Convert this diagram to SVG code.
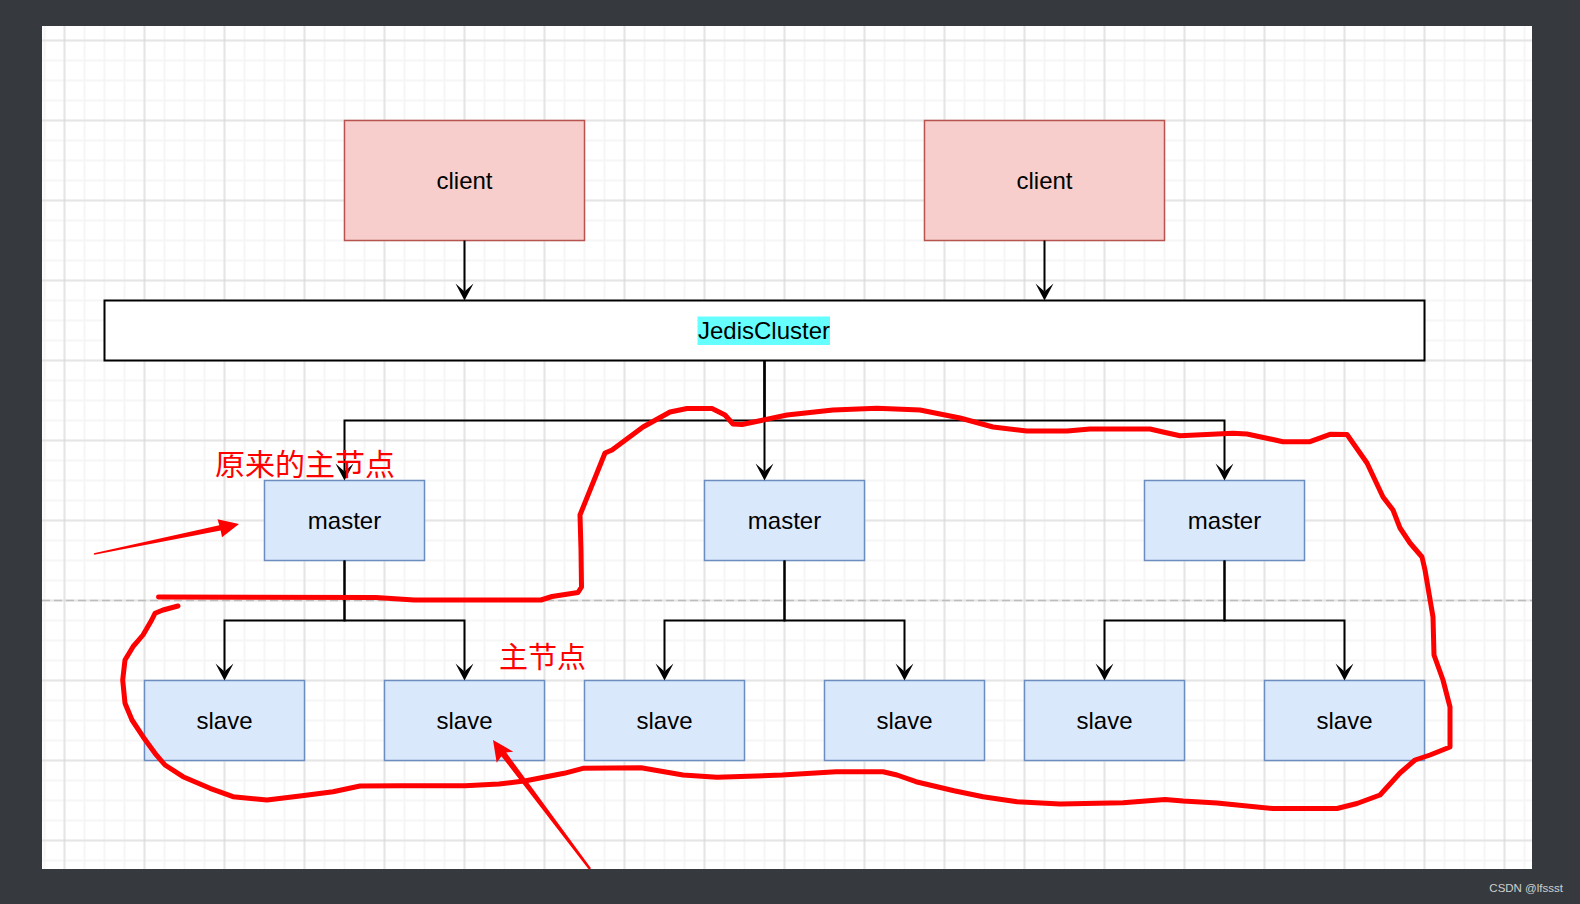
<svg xmlns="http://www.w3.org/2000/svg" width="1580" height="904" viewBox="0 0 1580 904">
<defs>
<pattern id="gridMinor" patternUnits="userSpaceOnUse" x="-5.5" y="-9.5" width="20" height="20">
<path d="M10 0V20M0 10H20" stroke="#f4f4f4" stroke-width="1.5" fill="none"/>
</pattern>
<pattern id="gridMajor" patternUnits="userSpaceOnUse" x="24.5" y="0.5" width="80" height="80">
<path d="M40 0V80M0 40H80" stroke="#d3d3d3" stroke-width="1" fill="none"/>
</pattern>
<marker id="arrow" markerUnits="userSpaceOnUse" orient="auto" overflow="visible" refX="0" refY="0" markerWidth="20" markerHeight="20">
<path d="M9,0 L-8,-9 L0,0 L-8,9 Z" fill="#000"/>
</marker>
<style>
.client{fill:#f8cecc;stroke:#b85450;stroke-width:1.5}
.node{fill:#dae8fc;stroke:#6c8ebf;stroke-width:1.5}
.lbl{font-family:"Liberation Sans",Arial,Helvetica,sans-serif;font-size:24px;fill:#000;text-anchor:middle}
.edge{fill:none;stroke:#000;stroke-width:2;marker-end:url(#arrow)}
.red{font-family:"Liberation Sans","Noto Sans CJK SC",sans-serif;fill:#ff0000}
</style>
</defs>
<rect x="0" y="0" width="1580" height="904" fill="#363a3e"/>
<rect x="42" y="26" width="1490" height="843" fill="#ffffff"/>
<rect x="42" y="26" width="1490" height="843" fill="url(#gridMinor)"/>
<rect x="42" y="26" width="1490" height="843" fill="url(#gridMajor)"/>
<line x1="42" y1="600.5" x2="1532" y2="600.5" stroke="#bdbdbd" stroke-width="1.5" stroke-dasharray="8 4"/>

<g id="client1"><rect class="client" x="344.5" y="120.5" width="240" height="120"/><text class="lbl" x="464.5" y="189">client</text></g>
<g id="client2"><rect class="client" x="924.5" y="120.5" width="240" height="120"/><text class="lbl" x="1044.5" y="189">client</text></g>
<g id="jediscluster"><rect x="104.5" y="300.5" width="1320" height="60" fill="#fff" stroke="#000" stroke-width="2"/><rect x="697.5" y="316.5" width="132.5" height="28.5" fill="#66ffff"/><text class="lbl" x="764" y="339">JedisCluster</text></g>
<g id="master1"><rect class="node" x="264.5" y="480.5" width="160" height="80"/><text class="lbl" x="344.5" y="529">master</text></g>
<g id="master2"><rect class="node" x="704.5" y="480.5" width="160" height="80"/><text class="lbl" x="784.5" y="529">master</text></g>
<g id="master3"><rect class="node" x="1144.5" y="480.5" width="160" height="80"/><text class="lbl" x="1224.5" y="529">master</text></g>
<g id="slave1"><rect class="node" x="144.5" y="680.5" width="160" height="80"/><text class="lbl" x="224.5" y="729">slave</text></g>
<g id="slave2"><rect class="node" x="384.5" y="680.5" width="160" height="80"/><text class="lbl" x="464.5" y="729">slave</text></g>
<g id="slave3"><rect class="node" x="584.5" y="680.5" width="160" height="80"/><text class="lbl" x="664.5" y="729">slave</text></g>
<g id="slave4"><rect class="node" x="824.5" y="680.5" width="160" height="80"/><text class="lbl" x="904.5" y="729">slave</text></g>
<g id="slave5"><rect class="node" x="1024.5" y="680.5" width="160" height="80"/><text class="lbl" x="1104.5" y="729">slave</text></g>
<g id="slave6"><rect class="node" x="1264.5" y="680.5" width="160" height="80"/><text class="lbl" x="1344.5" y="729">slave</text></g>

<g id="connectors">
<path class="edge" d="M464.5 240.5V291.5"/>
<path class="edge" d="M1044.5 240.5V291.5"/>
<path class="edge" d="M764.5 360.5V420.5H344.5V471.5"/>
<path class="edge" d="M764.5 360.5V471.5"/>
<path class="edge" d="M764.5 360.5V420.5H1224.5V471.5"/>
<path class="edge" d="M344.5 560.5V620.5H224.5V671.5"/>
<path class="edge" d="M344.5 560.5V620.5H464.5V671.5"/>
<path class="edge" d="M784.5 560.5V620.5H664.5V671.5"/>
<path class="edge" d="M784.5 560.5V620.5H904.5V671.5"/>
<path class="edge" d="M1224.5 560.5V620.5H1104.5V671.5"/>
<path class="edge" d="M1224.5 560.5V620.5H1344.5V671.5"/>
</g>

<g id="annotations">
<polyline fill="none" stroke="#ff0000" stroke-width="5" stroke-linejoin="round" stroke-linecap="round" points="158.5,597 376,597.5 414,600 541,600 552,596.5 578,592.5 581.5,587 581,550 580,515 605,453 612,450 643,427 670,412 687,408.5 712,408.5 725,415 733,424 742,424.5 787,415 833,410 877,408.3 920,410 960,418 993,427 1027,431 1067,431 1090,429 1150,429 1163,432 1180,435.7 1233,433.3 1247,434 1283,441.7 1310,441.7 1330,434.3 1347,434.5 1367,463 1383,497 1393,510 1400,528 1410,543 1422,557 1425,570 1433,617 1434,655 1443,680 1450,707 1450,747 1430,755 1415,760 1400,773 1380,795 1357,803.5 1337,808.5 1273,808.5 1217,803 1183,801 1165,799.5 1123,802.7 1060,804 1017,801.7 983,796.7 954,790.7 916,781.7 897,775 883,771.7 836,771.7 782,775 717,777.3 683,775 641,767.7 583,768.3 564,773.3 526,780.7 499,784 465,785.7 400,785.7 360,786 333,791.7 300,796 267,800 233,796.7 210,788.3 183,776.7 165,765 155,753.3 143,736.7 132,720 125,703.3 122.7,680 125,660 133,646.7 143,635 151.7,620 155,613.3 163,610 178,606"/>
<polygon fill="#ff0000" points="93.8,553.2 219.3,525.3 217.5,519.3 239,524 222,537.3 220.7,530.5 94.2,554.8"/>
<polygon fill="#ff0000" points="493,740 513.3,751.7 506.2,752.6 591,868.2 589,869.8 501.4,756.2 496.7,762.7"/>
<text class="red" x="215" y="475" font-size="30">原来的主节点</text>
<text class="red" x="499" y="668" font-size="29">主节点</text>
</g>
<text x="1563" y="892" font-family="'Liberation Sans',Arial,sans-serif" font-size="11.5" fill="#d0d0d0" text-anchor="end">CSDN @lfssst</text>
</svg>
